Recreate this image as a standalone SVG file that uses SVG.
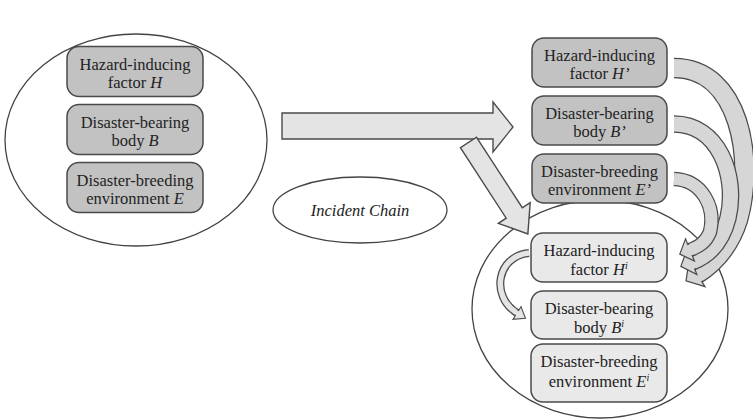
<svg xmlns="http://www.w3.org/2000/svg" width="753" height="420" viewBox="0 0 753 420">
  <style>
    .ring { fill: #ffffff; stroke: #444444; stroke-width: 1.3; }
    .box-dark { fill: #c2c2c2; stroke: #4a4a4a; stroke-width: 1.5; }
    .box-light { fill: #e9e9e9; stroke: #4a4a4a; stroke-width: 1.5; }
    .label { font-family: "Liberation Serif", "Times New Roman", serif; font-size: 16.5px; fill: #222222; text-anchor: middle; }
    .it { font-style: italic; }
    .sup { font-size: 10px; font-style: italic; }
    .block { fill: #e4e4e4; stroke: #4a4a4a; stroke-width: 1.4; stroke-linejoin: miter; }
    .band-edge { fill: none; stroke: #4a4a4a; stroke-linecap: butt; }
    .band-fill { fill: none; stroke: #d6d6d6; stroke-linecap: butt; }
    .band-fill.small { stroke: #e4e4e4; }
  </style>
  <defs>
    <!-- arrowheads for the curved bands; the short tails cover the joint with the band -->
    <marker id="head18" markerUnits="userSpaceOnUse" orient="auto" refX="0" refY="0" markerWidth="1" markerHeight="1" overflow="visible">
      <path d="M -1.5,-9 L 0,-9 L 0,-15 L 13,0 L 0,15 L 0,9 L -1.5,9" fill="#d6d6d6" stroke="#4a4a4a" stroke-width="1.2"/>
    </marker>
    <marker id="head15" markerUnits="userSpaceOnUse" orient="auto" refX="0" refY="0" markerWidth="1" markerHeight="1" overflow="visible">
      <path d="M -1.5,-7.5 L 0,-7.5 L 0,-13.5 L 12,0 L 0,13.5 L 0,7.5 L -1.5,7.5" fill="#d6d6d6" stroke="#4a4a4a" stroke-width="1.2"/>
    </marker>
    <marker id="head12" markerUnits="userSpaceOnUse" orient="auto" refX="0" refY="0" markerWidth="1" markerHeight="1" overflow="visible">
      <path d="M -1.5,-6 L 0,-6 L 0,-12 L 11,0 L 0,12 L 0,6 L -1.5,6" fill="#d6d6d6" stroke="#4a4a4a" stroke-width="1.2"/>
    </marker>
    <marker id="head6" markerUnits="userSpaceOnUse" orient="auto" refX="0" refY="0" markerWidth="1" markerHeight="1" overflow="visible">
      <path d="M -1.5,-3 L 0,-3 L 0,-7.5 L 10,0 L 0,7.5 L 0,3 L -1.5,3" fill="#e4e4e4" stroke="#4a4a4a" stroke-width="1.1"/>
    </marker>
  </defs>

  <!-- enclosing circles -->
  <ellipse id="source-group" class="ring" cx="136" cy="140" rx="131" ry="106"/>
  <ellipse id="target-group" class="ring" cx="600" cy="309" rx="128" ry="109"/>

  <!-- incident chain label -->
  <g id="incident-chain">
    <ellipse class="ring" cx="360" cy="210" rx="87" ry="33"/>
    <text class="label it" x="360" y="216">Incident Chain</text>
  </g>

  <!-- connectors -->
  <g id="connectors">
    <!-- straight block arrows -->
    <path class="block" d="M 282,113 L 493,113 L 493,102 L 513,127 L 493,152 L 493,139 L 282,139 Z"/>
    <g transform="translate(468.5,142.5) rotate(57)">
      <path class="block" d="M 0,-9.6 L 84,-9.6 L 84,-19 L 109,0 L 84,19 L 84,9.6 L 0,9.6 Z"/>
    </g>

    <!-- curved band from H' -->
    <path class="band-edge" stroke-width="20.5" d="M 674,68 C 740,68 755,160 738,220 C 730,245 716,262 697,274"/>
    <path class="band-fill" stroke-width="18" marker-end="url(#head18)" d="M 674,68 C 740,68 755,160 738,220 C 730,245 716,262 697,274"/>
    <!-- curved band from B' -->
    <path class="band-edge" stroke-width="17.5" d="M 674,124 C 718,124 738,175 728,218 C 722,242 710,255 692,262"/>
    <path class="band-fill" stroke-width="15" marker-end="url(#head15)" d="M 674,124 C 718,124 738,175 728,218 C 722,242 710,255 692,262"/>
    <!-- curved band from E' -->
    <path class="band-edge" stroke-width="14.5" d="M 674,179 C 702,180 716,207 710,232 C 706,242 700,246 690,250"/>
    <path class="band-fill" stroke-width="12" marker-end="url(#head12)" d="M 674,179 C 702,180 716,207 710,232 C 706,242 700,246 690,250"/>

    <!-- small curved arrow from H^i to B^i -->
    <path class="band-edge" stroke-width="8" d="M 529,253 C 497,256 490,296 517,313"/>
    <path class="band-fill small" stroke-width="5.5" marker-end="url(#head6)" d="M 529,253 C 497,256 490,296 517,313"/>
  </g>

  <!-- source elements -->
  <g id="hazard-H">
    <rect class="box-dark" x="67" y="46.5" width="136" height="50" rx="12"/>
    <text class="label" x="135" y="69.5">Hazard-inducing</text>
    <text class="label" x="135" y="87.5">factor <tspan class="it">H</tspan></text>
  </g>
  <g id="body-B">
    <rect class="box-dark" x="67" y="104.5" width="136" height="50" rx="12"/>
    <text class="label" x="135" y="127.5">Disaster-bearing</text>
    <text class="label" x="135" y="145.5">body <tspan class="it">B</tspan></text>
  </g>
  <g id="environment-E">
    <rect class="box-dark" x="67" y="162.5" width="136" height="50" rx="12"/>
    <text class="label" x="135" y="185.5">Disaster-breeding</text>
    <text class="label" x="135" y="203.5">environment <tspan class="it">E</tspan></text>
  </g>

  <!-- derived elements -->
  <g id="hazard-H-prime">
    <rect class="box-dark" x="532" y="38" width="135" height="49" rx="12"/>
    <text class="label" x="599.5" y="60.5">Hazard-inducing</text>
    <text class="label" x="599.5" y="79">factor <tspan class="it">H’</tspan></text>
  </g>
  <g id="body-B-prime">
    <rect class="box-dark" x="532" y="96" width="135" height="49" rx="12"/>
    <text class="label" x="599.5" y="118.5">Disaster-bearing</text>
    <text class="label" x="599.5" y="137">body <tspan class="it">B’</tspan></text>
  </g>
  <g id="environment-E-prime">
    <rect class="box-dark" x="532" y="154" width="135" height="49" rx="12"/>
    <text class="label" x="599.5" y="176.5">Disaster-breeding</text>
    <text class="label" x="599.5" y="195">environment <tspan class="it">E’</tspan></text>
  </g>

  <!-- i-th elements -->
  <g id="hazard-H-i">
    <rect class="box-light" x="531" y="233" width="136" height="49" rx="12"/>
    <text class="label" x="599" y="256">Hazard-inducing</text>
    <text class="label" x="599" y="275">factor <tspan class="it">H</tspan><tspan class="sup" dy="-6">i</tspan></text>
  </g>
  <g id="body-B-i">
    <rect class="box-light" x="531" y="291" width="136" height="48" rx="12"/>
    <text class="label" x="599" y="313.5">Disaster-bearing</text>
    <text class="label" x="599" y="332.5">body <tspan class="it">B</tspan><tspan class="sup" dy="-6">i</tspan></text>
  </g>
  <g id="environment-E-i">
    <rect class="box-light" x="531" y="344" width="136" height="58" rx="12"/>
    <text class="label" x="599" y="367">Disaster-breeding</text>
    <text class="label" x="599" y="387">environment <tspan class="it">E</tspan><tspan class="sup" dy="-6">i</tspan></text>
  </g>
</svg>
